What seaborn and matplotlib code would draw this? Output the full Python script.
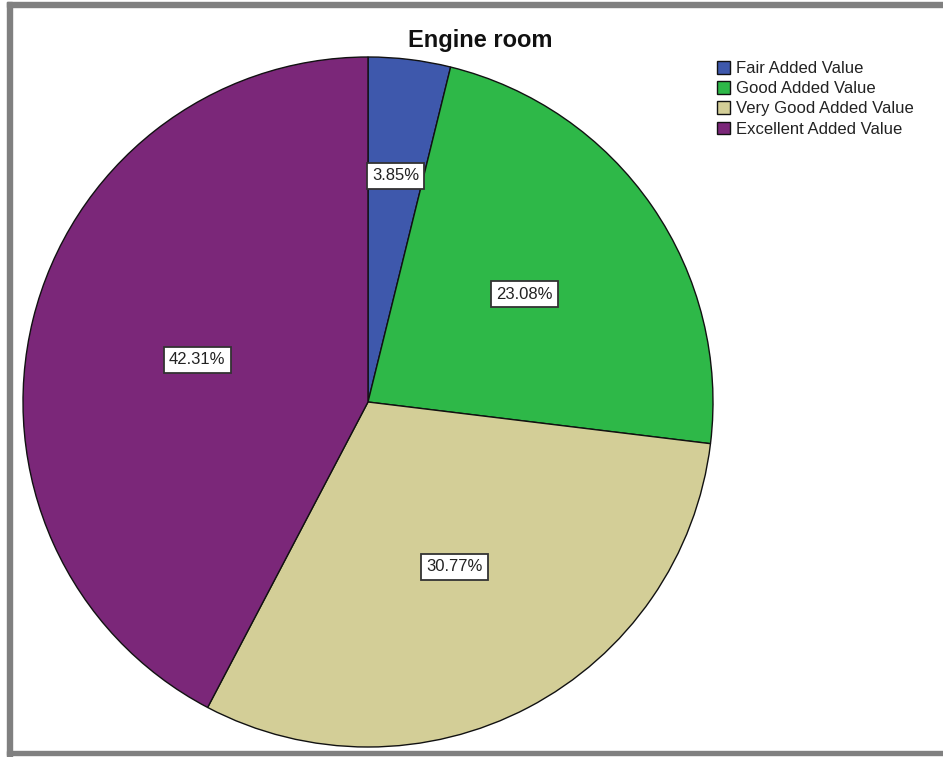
import numpy as np
import matplotlib
matplotlib.use("Agg")
import matplotlib.pyplot as plt
from matplotlib.patches import Rectangle
import seaborn as sns

categories = ["Fair Added Value", "Good Added Value",
              "Very Good Added Value", "Excellent Added Value"]
percentages = [3.85, 23.08, 30.77, 42.31]
slice_colors = ["#3E58AC", "#2EB848", "#D3CE97", "#7B2779"]
title = "Engine room"

sns.set_style("white")
plt.rcParams["font.family"] = ["Liberation Sans", "DejaVu Sans"]
palette = sns.color_palette(slice_colors)

fig = plt.figure(figsize=(9.43, 7.57), dpi=100)
W, H = 943, 757

# pie axes: centre (368, 402) px, radius 345 px
cx, cy, r = 368, 402, 345
ax = fig.add_axes([(cx - r) / W, (H - cy - r) / H, 2 * r / W, 2 * r / H])

wedges, _ = ax.pie(percentages, colors=palette, startangle=90,
                   counterclock=False, radius=1.0,
                   wedgeprops=dict(edgecolor="#111111", linewidth=1.0))
ax.set_xlim(-1, 1)
ax.set_ylim(-1, 1)
ax.set_aspect("equal")
ax.axis("off")

# percentage labels inside each wedge
label_dist = [0.66, 0.55, 0.54, 0.51]
for w, pct, d in zip(wedges, percentages, label_dist):
    mid = np.deg2rad((w.theta1 + w.theta2) / 2)
    ax.text(d * np.cos(mid), d * np.sin(mid), f"{pct:.2f}%",
            ha="center", va="center", fontsize=12, color="#222222",
            bbox=dict(boxstyle="square,pad=0.32", facecolor="white",
                      edgecolor="#333333", linewidth=1.3))

fig.text(480 / W, 1 - 40 / H, title, ha="center", va="center",
         fontsize=17, fontweight="bold", color="#111111")

leg = fig.legend(wedges, categories, loc="upper left",
                 bbox_to_anchor=(717 / W, 1 - 61 / H), frameon=False,
                 fontsize=12, handlelength=0.8, handleheight=0.8,
                 handletextpad=0.37, labelspacing=0.3, borderpad=0.0,
                 borderaxespad=0.0)
for t in leg.get_texts():
    t.set_color("#222222")

# grey frame along the left, top and bottom edges
frame = "#808080"
fig.patches.append(Rectangle((7 / W, 0), 5 / W, 1 - 2 / H,
                             transform=fig.transFigure, color=frame))
fig.patches.append(Rectangle((7 / W, 1 - 7 / H), 1, 5 / H,
                             transform=fig.transFigure, color=frame))
fig.patches.append(Rectangle((7 / W, 2 / H), 1, 4 / H,
                             transform=fig.transFigure, color=frame))

fig.savefig("out.png", dpi=100, facecolor="white")
